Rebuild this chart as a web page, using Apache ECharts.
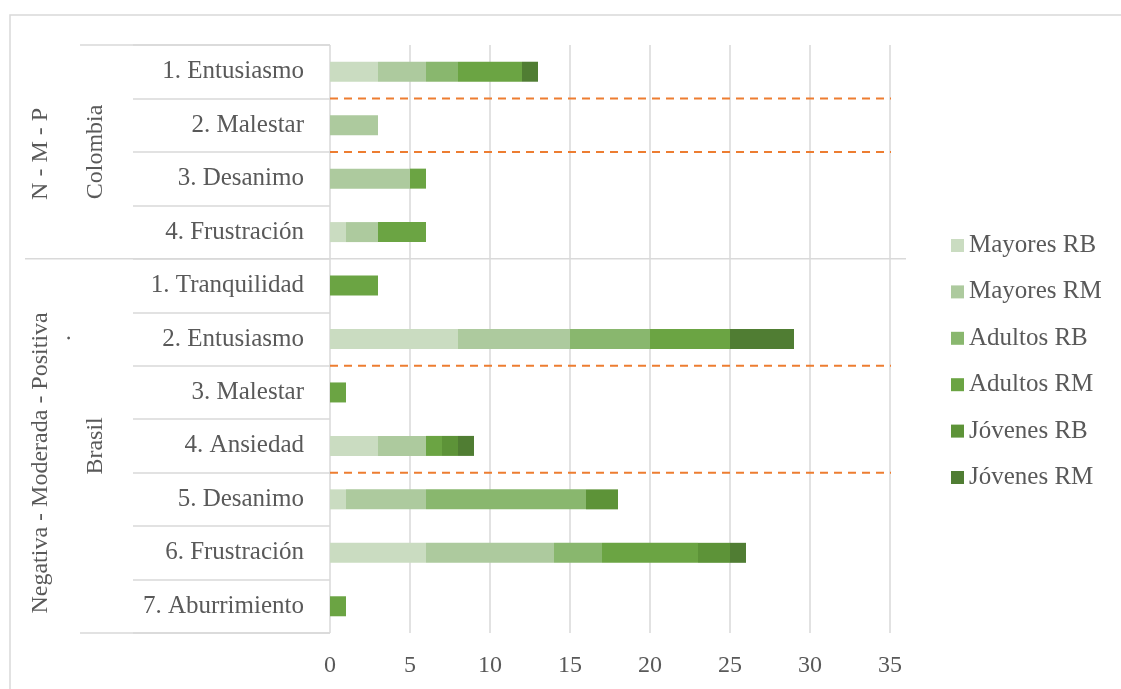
<!DOCTYPE html>
<html>
<head>
<meta charset="utf-8">
<script src="https://cdn.jsdelivr.net/npm/echarts@6/dist/echarts.min.js"></script>
<style>
html,body{margin:0;padding:0;background:#fff;}
#chart{width:1121px;height:689px;}
</style>
</head>
<body>
<div id="chart"></div>
<script>
// Categories, top to bottom
const categories = ['1. Entusiasmo','2. Malestar','3. Desanimo','4. Frustración',
  '1. Tranquilidad','2. Entusiasmo','3. Malestar','4. Ansiedad','5. Desanimo','6. Frustración','7. Aburrimiento'];
const seriesNames = ['Mayores RB','Mayores RM','Adultos RB','Adultos RM','Jóvenes RB','Jóvenes RM'];
const mayoresRB = [3,0,0,1, 0,8,0,3,1,6,0];
const mayoresRM = [3,3,5,2, 0,7,0,3,5,8,0];
const adultosRB = [2,0,0,0, 0,5,0,0,10,3,0];
const adultosRM = [4,0,1,3, 3,5,1,1,0,6,1];
const jovenesRB = [0,0,0,0, 0,0,0,1,2,2,0];
const jovenesRM = [1,0,0,0, 0,4,0,1,0,1,0];
const xTicks = [0,5,10,15,20,25,30,35];
// group structure (count of categories per country)
const countries = ['Colombia','Brasil'];
const countryCounts = [4,7];
const levelLabels = ['N - M - P','Negativa - Moderada - Positiva'];
// dashed separators (category boundaries)
const dashedBoundaries = [1,2,6,8];

const colors = ['#cadcc1','#adca9e','#89b76e','#6ba443','#5d9338','#507d33'];
const seriesValues = [mayoresRB,mayoresRM,adultosRB,adultosRM,jovenesRB,jovenesRM];
const FONT = '"Liberation Serif","Times New Roman",serif';
const TXT = '#595959';
const GRIDC = '#d9d9d9';
const xMax = xTicks[xTicks.length-1];

const chart = echarts.init(document.getElementById('chart'));
const barSeries = seriesNames.map((n,i)=>({
  name:n, type:'bar', stack:'total', barWidth:20,
  xAxisIndex:0, yAxisIndex:0,
  itemStyle:{color:colors[i]},
  data:seriesValues[i]
}));
const dashSeries = dashedBoundaries.map(v=>({
  type:'line', xAxisIndex:0, yAxisIndex:1, silent:true, clip:false,
  showSymbol:false, symbol:'none',
  lineStyle:{color:'#ed7d31',type:[8,6],width:2},
  data:[[0,v],[xMax*1.015,v]]
}));

chart.setOption({
  animation:false,
  backgroundColor:'#fff',
  grid:{left:330,right:231,top:45,bottom:56,containLabel:false},
  legend:{
    orient:'vertical', left:946, top:228,
    itemWidth:13, itemHeight:13, itemGap:21.4, icon:'rect',
    data:seriesNames,
    textStyle:{fontFamily:FONT,fontSize:25,color:TXT,lineHeight:24}
  },
  xAxis:{
    type:'value', min:xTicks[0], max:xMax, interval:5,
    axisLine:{show:false}, axisTick:{show:false},
    axisLabel:{fontFamily:FONT,fontSize:24,color:TXT,margin:21},
    splitLine:{show:true,lineStyle:{color:GRIDC,width:1.5}}
  },
  yAxis:[{
    type:'category', data:categories, inverse:true,
    axisLine:{show:false},
    axisTick:{show:true,length:197,lineStyle:{color:GRIDC,width:1.5}},
    axisLabel:{fontFamily:FONT,fontSize:25,color:TXT,margin:26}
  },{
    type:'value', min:0, max:categories.length, inverse:true, show:false
  }],
  series:barSeries.concat(dashSeries)
});

// Table lines and group labels, positioned through the hidden boundary axis
function yPix(v){ return chart.convertToPixel({yAxisIndex:1}, v); }
const g = [];
g.push({type:'rect',shape:{x:10,y:15,width:1300,height:900},style:{fill:null,stroke:GRIDC,lineWidth:1.5},silent:true});
const yTop = yPix(0), yBot = yPix(categories.length);
g.push({type:'line',shape:{x1:80,y1:yTop,x2:330,y2:yTop},style:{stroke:GRIDC,lineWidth:1.5}});
g.push({type:'line',shape:{x1:80,y1:yBot,x2:330,y2:yBot},style:{stroke:GRIDC,lineWidth:1.5}});
let startIdx = 0;
countries.forEach((c,i)=>{
  const endIdx = startIdx + countryCounts[i];
  const mid = yPix((startIdx+endIdx)/2);
  if(i>0){
    const yb = yPix(startIdx);
    g.push({type:'line',shape:{x1:25,y1:yb,x2:906,y2:yb},style:{stroke:GRIDC,lineWidth:1.5}});
  }
  g.push({type:'text',x:96,y:mid,rotation:Math.PI/2,
    style:{text:c,font:'24px '+FONT,fill:TXT,align:'center',verticalAlign:'middle'}});
  const off = i===0 ? 2 : 17;
  g.push({type:'text',x:41,y:mid+off,rotation:Math.PI/2,
    style:{text:levelLabels[i],font:'24px '+FONT,fill:TXT,align:'center',verticalAlign:'middle'}});
  if(i===1){
    g.push({type:'text',x:64,y:mid-108,rotation:Math.PI/2,
      style:{text:'.',font:'24px '+FONT,fill:TXT,align:'center',verticalAlign:'middle'}});
  }
  startIdx = endIdx;
});
chart.setOption({graphic:g});
</script>
</body>
</html>
